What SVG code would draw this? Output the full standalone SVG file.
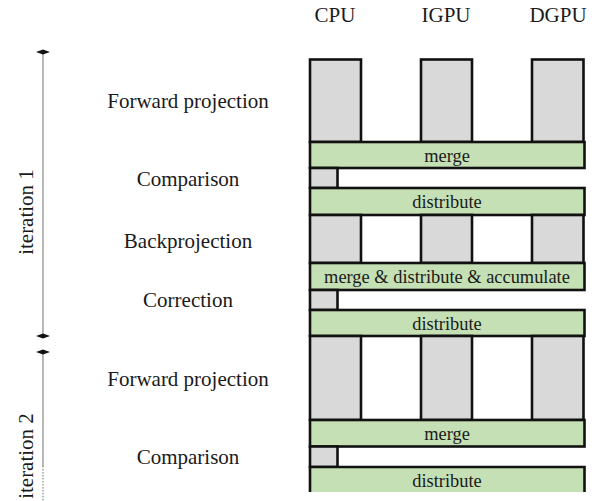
<svg xmlns="http://www.w3.org/2000/svg" width="597" height="501" viewBox="0 0 597 501">
<style>
text{font-family:"Liberation Serif","Times New Roman",serif;fill:#1a1a1a}
.lbl{font-size:21px;text-anchor:middle}
.bt{font-size:18.4px;text-anchor:middle}
.col{fill:#d9d9d9;stroke:#111;stroke-width:2.6}
.bar{fill:#c5e0b4;stroke:#111;stroke-width:2.6}
.axis{stroke:#a6a6a6;stroke-width:1.6;fill:none}
.dia{fill:#111}
</style>
<rect width="597" height="501" fill="#fff"/>
<g id="headers">
<text class="lbl" x="335" y="22">CPU</text>
<text class="lbl" x="446" y="22">IGPU</text>
<text class="lbl" x="558" y="22">DGPU</text>
</g>
<g id="axis">
<line class="axis" x1="43" y1="52" x2="43" y2="336"/>
<line class="axis" x1="43" y1="352" x2="43" y2="466"/>
<line class="axis" x1="43" y1="466" x2="43" y2="501" stroke-dasharray="1.5 1.5"/>
<path class="dia" d="M36 52 L43 49.5 L50 52 L43 54.5 Z"/>
<path class="dia" d="M36 336 L43 333.5 L50 336 L43 338.5 Z"/>
<path class="dia" d="M36 352 L43 349.5 L50 352 L43 354.5 Z"/>
<text class="lbl" transform="translate(33,212) rotate(-90)">iteration 1</text>
<text class="lbl" transform="translate(33,456) rotate(-90)">iteration 2</text>
</g>
<g id="labels">
<text class="lbl" x="188" y="108">Forward projection</text>
<text class="lbl" x="188" y="186">Comparison</text>
<text class="lbl" x="188" y="248">Backprojection</text>
<text class="lbl" x="188" y="307">Correction</text>
<text class="lbl" x="188" y="386">Forward projection</text>
<text class="lbl" x="188" y="464">Comparison</text>
</g>
<g id="fp1">
<rect class="col" x="310" y="59.5" width="51" height="82.5"/>
<rect class="col" x="421" y="59.5" width="51" height="82.5"/>
<rect class="col" x="532" y="59.5" width="51.5" height="82.5"/>
</g>
<g id="merge1">
<rect class="bar" x="310" y="142" width="274.5" height="26"/>
<text class="bt" x="447" y="162">merge</text>
</g>
<g id="cmp1"><rect class="col" x="310" y="168" width="27.5" height="20"/></g>
<g id="dist1">
<rect class="bar" x="310" y="188" width="274.5" height="27"/>
<text class="bt" x="447" y="208">distribute</text>
</g>
<g id="bp1">
<rect class="col" x="310" y="215" width="51" height="48"/>
<rect class="col" x="421" y="215" width="51" height="48"/>
<rect class="col" x="532" y="215" width="51.5" height="48"/>
</g>
<g id="mda1">
<rect class="bar" x="310" y="263" width="274.5" height="27"/>
<text class="bt" x="447" y="283">merge &amp; distribute &amp; accumulate</text>
</g>
<g id="cor1"><rect class="col" x="310" y="290" width="27.5" height="20"/></g>
<g id="dist2">
<rect class="bar" x="310" y="310" width="274.5" height="26"/>
<text class="bt" x="447" y="330">distribute</text>
</g>
<g id="fp2">
<rect class="col" x="310" y="336" width="51" height="84"/>
<rect class="col" x="421" y="336" width="51" height="84"/>
<rect class="col" x="532" y="336" width="51.5" height="84"/>
</g>
<g id="merge2">
<rect class="bar" x="310" y="420" width="274.5" height="26.5"/>
<text class="bt" x="447" y="440">merge</text>
</g>
<g id="cmp2"><rect class="col" x="310" y="446.5" width="27.5" height="20.5"/></g>
<g id="dist3">
<path fill="#c5e0b4" d="M310 467 H584.5 V492 H310 Z"/>
<path fill="none" stroke="#111" stroke-width="2.6" d="M310 492 V467 H584.5 V492"/>
<text class="bt" x="447" y="487">distribute</text>
</g>
</svg>
